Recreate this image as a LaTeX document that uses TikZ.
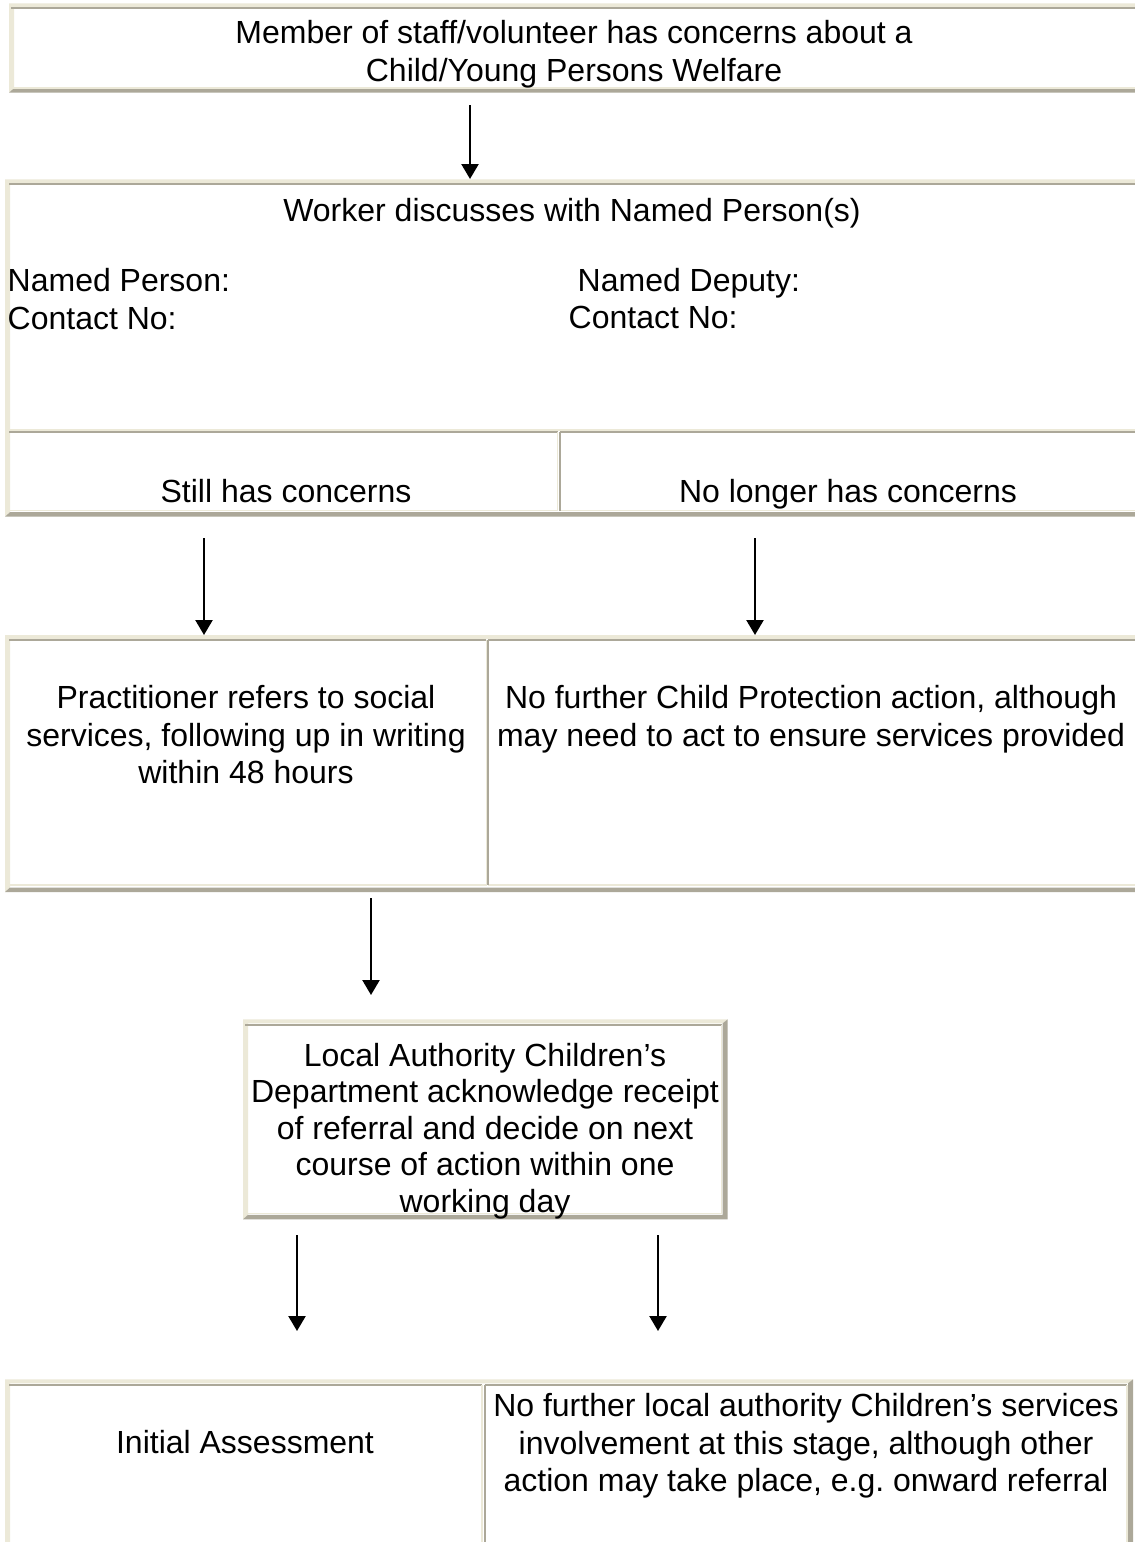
\documentclass[tikz,border=0pt]{standalone}
\usepackage{fontspec}
\setmainfont{Liberation Sans}
\usetikzlibrary{arrows.meta}
\definecolor{framelight}{HTML}{ECE9D8}
\definecolor{framedark}{HTML}{ACA899}
\def\tableframe(#1,#2)(#3,#4){%
	\fill[framelight] (#1,#2) -- (#3,#2) -- (#3-5,#2+4) -- (#1+5,#2+4) -- (#1+5,#4-4.5) -- (#1,#4) -- cycle;
	\fill[framedark] (#3,#2) -- (#3,#4) -- (#1,#4) -- (#1+5,#4-4.5) -- (#3-5,#4-4.5) -- (#3-5,#2+4) -- cycle;}
\def\cellframe(#1,#2)(#3,#4){%
	\draw[framedark, line width=2pt] (#1,#2) -- (#3,#2);
	\draw[framelight, line width=1.5pt] (#3,#2) -- (#3,#4) -- (#1,#4);}
\tikzset{
	flowtext/.style={inner sep=0pt, anchor=north, align=center},
	lefttext/.style={inner sep=0pt, anchor=north west, align=left},
	flowarrow/.style={line width=2.4pt, -{Triangle[width=17pt,length=15pt]}},
	divider/.style={framedark, line width=2pt}
}

\begin{document}
\begin{tikzpicture}[x=1pt, y=-1pt, font=\fontsize{32}{37.5}\selectfont]
		%%%%% START %%%%%
		\useasboundingbox (0,0) rectangle (1135,1542);
		\fill[white] (0,0) rectangle (1135,1542);
		\clip (0,0) rectangle (1135,1542);
		
		% concern
		\tableframe(9,3.3)(1145,92.7)
		\cellframe(11,7.7)(1140,87.8)
		\node[flowtext] (concern) at (574, 20.5) {Member of staff/volunteer has concerns about a\\Child/Young Persons Welfare};
		
		% named person table
		\tableframe(5,179.3)(1145,516.7)
		\cellframe(9,184.3)(1140,430)
		\cellframe(9,431.7)(557.7,510.5)
		\cellframe(559.8,431.7)(1140,510.5)
		\draw[divider] (559.8,431.7) -- (559.8,510.5);
		\node[flowtext] (discuss) at (572, 198.5) {Worker discusses with Named Person(s)};
		\node[lefttext] (person) at (7.5, 268.5) {Named Person:\\Contact No:};
		\node[lefttext] (deputy) at (577.5, 268.5) {Named Deputy:};
		\node[lefttext] (deputyno) at (568.5, 305.5) {Contact No:};
		\node[flowtext] (still) at (286, 479.5) {Still has concerns};
		\node[flowtext] (nolonger) at (848, 479.5) {No longer has concerns};
		
		% referral table
		\tableframe(5,635)(1145,892)
		\cellframe(9,640.3)(486.3,885)
		\cellframe(488.3,640.3)(1140,885)
		\draw[divider] (488.3,640.3) -- (488.3,885);
		\node[flowtext] (refer) at (246, 685.5) {Practitioner refers to social\\services, following up in writing\\within 48 hours};
		\node[flowtext] (noaction) at (811, 685.5) {No further Child Protection action, although\\may need to act to ensure services provided};
		
		% local authority
		\tableframe(243,1019.3)(727.7,1219.3)
		\cellframe(245,1024.5)(721.7,1213.5)
		\node[flowtext, font=\fontsize{32}{36.4}\selectfont] (authority) at (485, 1043) {Local Authority Children’s\\Department acknowledge receipt\\of referral and decide on next\\course of action within one\\working day};
		
		% outcome table
		\tableframe(5,1379.3)(1133,1570)
		\cellframe(9,1385)(482,1565)
		\cellframe(484.5,1385)(1127,1565)
		\draw[divider] (484.5,1385) -- (484.5,1565);
		\node[flowtext] (assess) at (245, 1430.5) {Initial Assessment};
		\node[flowtext] (nofurther) at (806, 1393.5) {No further local authority Children’s services\\involvement at this stage, although other\\action may take place, e.g.\ onward referral};
		
		% arrows
		\coordinate (a1) at (470,105);   \coordinate (b1) at (470,179);
		\coordinate (a2) at (204,538);   \coordinate (b2) at (204,635);
		\coordinate (a3) at (755,538);   \coordinate (b3) at (755,635);
		\coordinate (a4) at (371,898);   \coordinate (b4) at (371,995);
		\coordinate (a5) at (297,1235);  \coordinate (b5) at (297,1331);
		\coordinate (a6) at (658,1235);  \coordinate (b6) at (658,1331);
		\draw[flowarrow] (a1) -- (b1);
		\draw[flowarrow] (a2) -- (b2);
		\draw[flowarrow] (a3) -- (b3);
		\draw[flowarrow] (a4) -- (b4);
		\draw[flowarrow] (a5) -- (b5);
		\draw[flowarrow] (a6) -- (b6);
		
		%%%%% END %%%%%
\end{tikzpicture}
\end{document}
